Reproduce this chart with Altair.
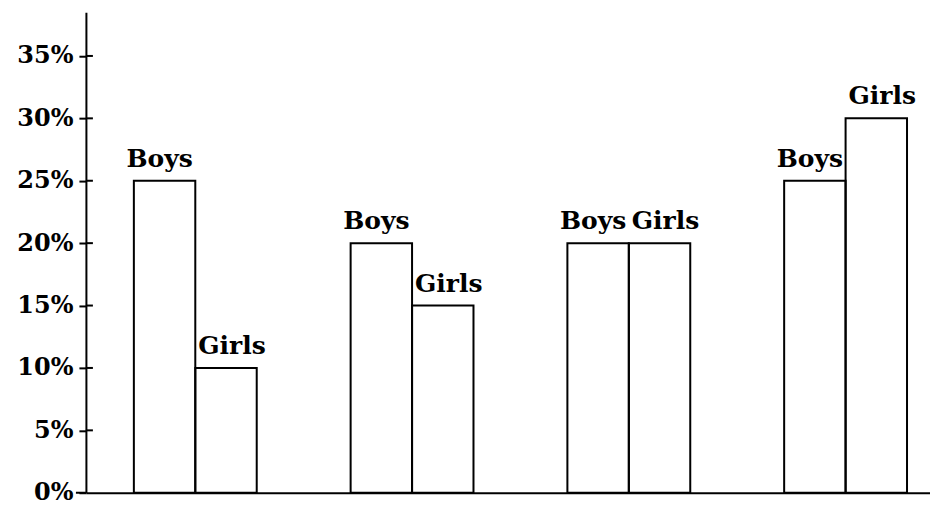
import altair as alt
import pandas as pd

groups = ["A", "B", "C", "D"]
boys = [25, 20, 20, 25]
girls = [10, 15, 20, 30]
tick_values = [0, 5, 10, 15, 20, 25, 30, 35]

rows = []
for g, b, gi in zip(groups, boys, girls):
    rows.append({"group": g, "gender": "Boys", "value": b})
    rows.append({"group": g, "gender": "Girls", "value": gi})
df = pd.DataFrame(rows)
ticks_df = pd.DataFrame({"v": tick_values[1:]})
zero_df = pd.DataFrame({"v": [0]})

FONT = "DejaVu Serif"
yscale = alt.Scale(domain=[0, 38.5], nice=False, zero=True)
xscale = alt.Scale(paddingInner=0.4332, paddingOuter=0.1636, align=0.676)
xoff = alt.XOffset("gender:N", sort=["Boys", "Girls"],
                   scale=alt.Scale(paddingInner=0, paddingOuter=0))

x_enc = alt.X("group:N", sort=groups, scale=xscale,
              axis=alt.Axis(title=None, labels=False, ticks=False,
                            domainColor="black", domainWidth=2))
y_enc = alt.Y("value:Q", scale=yscale,
              axis=alt.Axis(title=None, values=tick_values, grid=False,
                            labelExpr="datum.value + '%'",
                            labelFont=FONT, labelFontWeight="bold",
                            labelFontSize=24, labelColor="black",
                            labelPadding=6, tickSize=7, tickWidth=2,
                            tickColor="black", domainColor="black",
                            domainWidth=2))

bars = alt.Chart(df).mark_bar(fill="white", fillOpacity=0, stroke="black",
                              strokeWidth=2).encode(x=x_enc, xOffset=xoff, y=y_enc)


def label_layer(gender, dx):
    return alt.Chart(df).transform_filter(
        alt.datum.gender == gender
    ).mark_text(font=FONT, fontWeight="bold", fontSize=25, color="black",
                baseline="alphabetic", dy=-14, dx=dx).encode(
        x=alt.X("group:N", sort=groups, scale=xscale),
        xOffset=xoff,
        y=alt.Y("value:Q", scale=yscale),
        text="gender:N",
    )


labels_boys = label_layer("Boys", -5)
labels_girls = label_layer("Girls", 6)

inner_ticks = alt.Chart(ticks_df).mark_rule(color="black", strokeWidth=2).encode(
    y=alt.Y("v:Q", scale=yscale),
    x=alt.value(0),
    x2=alt.value(7),
)
zero_ext = alt.Chart(zero_df).mark_rule(color="black", strokeWidth=2).encode(
    y=alt.Y("v:Q", scale=yscale),
    x=alt.value(-10),
    x2=alt.value(0),
)

chart = alt.layer(bars, labels_boys, labels_girls, inner_ticks, zero_ext).properties(
    width=845, height=481,
    padding={"left": 8, "top": 4, "right": 0, "bottom": 4},
    background="white",
).configure_view(stroke=None)

chart.save("out.html", embed_options={"renderer": "svg", "actions": False})
